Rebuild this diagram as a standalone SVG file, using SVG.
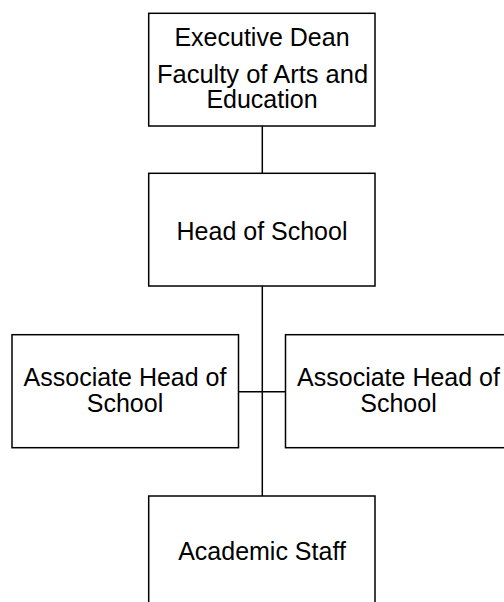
<svg xmlns="http://www.w3.org/2000/svg" width="504" height="602" viewBox="0 0 504 602">
<style>
.box{fill:#fff;stroke:#000;stroke-width:1.5}
.ln{fill:none;stroke:#000;stroke-width:1.5}
text{font-family:"Liberation Sans",Arial,sans-serif;font-size:25px;fill:#000;text-anchor:middle}
</style>
<rect width="504" height="602" fill="#fff"/>
<g id="connectors">
<line class="ln" x1="262.3" y1="126" x2="262.3" y2="173.3"/>
<line class="ln" x1="262.3" y1="286" x2="262.3" y2="496"/>
<line class="ln" x1="238.5" y1="391.7" x2="285.5" y2="391.7"/>
</g>
<g id="exec-dean">
<rect class="box" x="148.7" y="13.3" width="226.3" height="112.7"/>
<text x="262" y="46">Executive Dean</text>
<text x="262.5" y="82.5" style="font-size:25.5px">Faculty of Arts and</text>
<text x="262" y="107.5">Education</text>
</g>
<g id="head-of-school">
<rect class="box" x="148.7" y="173.3" width="226.3" height="112.7"/>
<text x="262" y="240">Head of School</text>
</g>
<g id="assoc-left">
<rect class="box" x="12" y="334.7" width="226.5" height="113"/>
<text x="125" y="386">Associate Head of</text>
<text x="125" y="412">School</text>
</g>
<g id="assoc-right">
<rect class="box" x="285.5" y="334.7" width="226.5" height="113"/>
<text x="398.5" y="386">Associate Head of</text>
<text x="398.5" y="412">School</text>
</g>
<g id="academic-staff">
<rect class="box" x="148.7" y="496" width="226.3" height="113"/>
<text x="262" y="560">Academic Staff</text>
</g>
</svg>
